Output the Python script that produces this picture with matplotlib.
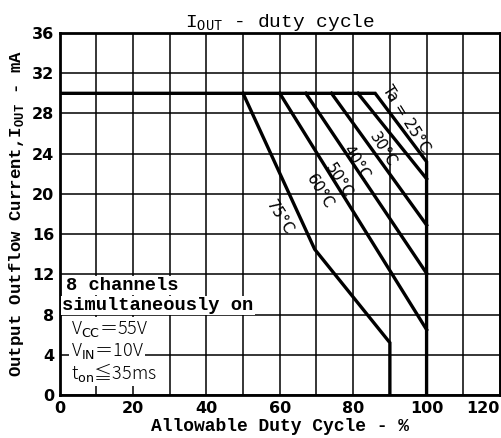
import matplotlib
matplotlib.use("Agg")
import matplotlib.pyplot as plt

# derating curves: (duty %, current mA) break points per ambient temperature
curve_25 = ([0, 86, 100, 100], [30, 30, 23.2, 0])
curve_30 = ([81.3, 100], [30, 21.5])
curve_40 = ([74.1, 100], [30, 16.9])
curve_50 = ([67.1, 100], [30, 12.1])
curve_60 = ([60, 100], [30, 6.5])
curve_75 = ([50, 69.5, 90, 90], [30, 14.5, 5.2, 0])
curves = [curve_25, curve_30, curve_40, curve_50, curve_60, curve_75]

labels = ["Ta = 25°C", "30°C", "40°C", "50°C", "60°C", "75°C"]
label_xy = [(94.3, 27.4), (88.0, 24.4), (80.8, 23.1), (76.0, 21.3), (71.0, 20.2), (60.0, 17.6)]

x_ticks = [0, 20, 40, 60, 80, 100, 120]
y_ticks = [0, 4, 8, 12, 16, 20, 24, 28, 32, 36]

plt.rcParams["mathtext.fontset"] = "custom"
plt.rcParams["mathtext.rm"] = "Liberation Mono"
plt.rcParams["mathtext.bf"] = "Liberation Mono:bold"

fig = plt.figure(figsize=(5.01, 4.38), dpi=100)
ax = fig.add_axes([0.1188, 0.0982, 0.8792, 0.8265])

ax.set_xlim(0, 120)
ax.set_ylim(0, 36)
ax.set_xticks(range(0, 121, 10), minor=True)
ax.set_yticks(range(0, 37, 4))
ax.set_xticks(x_ticks)
ax.grid(True, which="both", color="black", linewidth=1.1)
ax.tick_params(which="both", length=0, pad=4)
for sp in ax.spines.values():
    sp.set_linewidth(2)

tick_font = dict(family="Liberation Sans Narrow", weight="bold", size=11.5)
ax.set_xticklabels([str(v) for v in x_ticks], **tick_font)
ax.set_yticklabels([str(v) for v in y_ticks], **tick_font)
ax.get_xticklabels()[-1].set_horizontalalignment("right")

for xs, ys in curves:
    ax.plot(xs, ys, color="black", linewidth=2.4, solid_joinstyle="miter", zorder=3)

for txt, (lx, ly) in zip(labels, label_xy):
    ax.text(lx, ly, txt, rotation=-58, ha="center", va="center",
            family="DejaVu Sans", size=11, zorder=4)

ax.set_title(r"I$_{\mathrm{OUT}}$ - duty cycle", family="Liberation Mono", size=14, pad=3)
ax.set_xlabel("Allowable Duty Cycle - %", family="Liberation Mono", weight="bold", size=13, labelpad=2)
ax.set_ylabel(r"Output Outflow Current,I$_{\mathbf{OUT}}$ - mA", family="Liberation Mono",
              weight="bold", size=12.5, labelpad=4)

box = dict(facecolor="white", edgecolor="none", pad=1)
ax.text(1.8, 10.9, "8 channels", family="Liberation Mono", weight="bold", size=13.5,
        va="center", bbox=box, zorder=5)
ax.text(0.8, 8.9, "simultaneously on", family="Liberation Mono", weight="bold", size=13.5,
        va="center", bbox=box, zorder=5)
cjk = dict(family="Noto Sans CJK JP", math_fontfamily="dejavusans", size=13, weight="light",
           va="center", bbox=box, zorder=5)
ax.text(3, 6.6, r"V$_{\mathrm{CC}}$＝55V", **cjk)
ax.text(3, 4.4, r"V$_{\mathrm{IN}}$＝10V", **cjk)
ax.text(3, 2.2, r"t$_{\mathrm{on}}$≦35ms", **cjk)

fig.savefig("out.png", dpi=100)
